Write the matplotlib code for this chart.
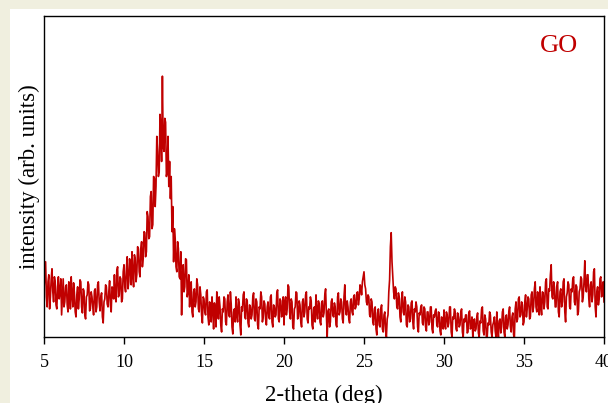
import numpy as np
import matplotlib
matplotlib.use("Agg")
from matplotlib import pyplot as plt
from matplotlib.patches import Rectangle

# XRD pattern of GO (0.05 deg steps, arb. units)
# one row per degree, starting at that whole degree
step = 0.05
counts_by_degree = {
    5: [48, 62, 75, 40, 30, 55, 62, 28, 40, 58, 68, 45, 35, 60, 55, 32, 28, 50, 60, 38],
    6: [45, 58, 22, 40, 58, 30, 35, 50, 52, 32, 25, 55, 48, 28, 60, 42, 30, 54, 44, 25],
    7: [20, 42, 50, 28, 38, 57, 55, 30, 24, 48, 46, 22, 18, 40, 42, 55, 52, 26, 28, 45],
    8: [40, 30, 22, 46, 48, 25, 30, 52, 55, 35, 26, 40, 44, 20, 14, 35, 38, 52, 50, 33],
    9: [30, 45, 56, 32, 25, 50, 48, 38, 62, 40, 35, 66, 70, 40, 42, 60, 58, 35, 38, 65],
    10: [72, 50, 45, 68, 80, 48, 55, 78, 68, 52, 85, 62, 50, 82, 78, 55, 62, 90, 88, 65],
    11: [60, 88, 95, 70, 78, 105, 104, 80, 85, 125, 120, 98, 100, 140, 145, 108, 112, 160, 158, 130],
    12: [150, 200, 185, 160, 165, 222, 210, 175, 260, 190, 185, 218, 214, 160, 165, 200, 150, 175, 138, 160],
    13: [105, 130, 75, 108, 98, 70, 65, 95, 88, 60, 58, 85, 22, 60, 72, 45, 50, 78, 77, 40],
    14: [45, 62, 30, 48, 55, 25, 20, 45, 48, 30, 35, 58, 52, 28, 25, 50, 42, 22, 14, 40],
    15: [38, 25, 22, 45, 47, 20, 12, 35, 32, 15, 40, 28, 8, 34, 28, 10, 45, 30, 18, 40],
    16: [30, 12, 5, 28, 25, 40, 38, 15, 12, 35, 42, 22, 20, 45, 33, 10, 3, 25, 28, 15],
    17: [40, 22, 15, 38, 34, 12, 2, 30, 26, 42, 45, 20, 18, 38, 36, 14, 10, 32, 30, 18],
    18: [22, 40, 44, 18, 16, 38, 35, 12, 8, 30, 28, 45, 40, 15, 20, 36, 33, 18, 12, 30],
    19: [35, 20, 18, 40, 42, 15, 10, 32, 30, 20, 22, 44, 47, 18, 15, 38, 36, 20, 25, 40],
    20: [12, 35, 40, 22, 28, 52, 50, 25, 18, 38, 35, 10, 8, 28, 30, 45, 44, 18, 20, 36],
    21: [32, 15, 10, 35, 38, 20, 25, 42, 45, 18, 14, 30, 28, 40, 36, 12, 8, 28, 30, 15],
    22: [42, 25, 18, 36, 33, 15, 12, 34, 36, 20, 24, 42, 48, 22, 0, 26, 28, 10, 15, 35],
    23: [38, 22, 20, 34, 30, 12, 10, 40, 44, 22, 25, 38, 35, 18, 14, 40, 52, 28, 22, 36],
    24: [30, 18, 14, 35, 38, 25, 22, 40, 42, 28, 30, 44, 45, 32, 38, 52, 50, 42, 55, 60],
    25: [65, 52, 48, 35, 32, 42, 40, 22, 20, 38, 35, 15, 12, 28, 30, 8, 2, 24, 28, 12],
    26: [10, 28, 32, 8, 5, 22, 25, 6, 0, 18, 22, 45, 57, 90, 104, 75, 60, 45, 38, 50],
    27: [48, 30, 28, 44, 40, 20, 15, 38, 45, 25, 22, 40, 35, 12, 10, 32, 30, 15, 18, 34],
    28: [36, 15, 8, 28, 25, 35, 30, 10, 5, 24, 22, 30, 32, 14, 12, 30, 28, 10, 6, 25],
    29: [25, 12, 15, 30, 30, 8, 4, 22, 20, 26, 28, 12, 10, 25, 24, 6, 2, 20, 18, 8],
    30: [27, 12, 8, 25, 22, 10, 14, 30, 30, 5, 0, 20, 18, 28, 25, 8, 6, 24, 20, 10],
    31: [12, 25, 28, 5, 0, 18, 15, 22, 22, 4, 5, 24, 26, 8, 10, 20, 0, 15, 18, 6],
    32: [8, 20, 24, 4, 0, 16, 14, 28, 30, 6, 2, 22, 18, 0, 0, 14, 12, 25, 22, 5],
    33: [0, 12, 15, 20, 6, 0, 25, 10, 0, 16, 18, 4, 10, 25, 28, 5, 0, 20, 22, 8],
    34: [12, 25, 30, 10, 5, 20, 24, 2, 0, 28, 35, 15, 18, 38, 40, 20, 22, 35, 32, 12],
    35: [15, 35, 42, 20, 28, 40, 38, 18, 20, 42, 45, 25, 30, 48, 55, 30, 25, 45, 40, 22],
    36: [50, 30, 22, 45, 44, 28, 35, 55, 58, 30, 28, 48, 46, 62, 72, 40, 38, 55, 50, 30],
    37: [30, 50, 55, 25, 20, 45, 48, 30, 35, 55, 58, 25, 15, 40, 44, 55, 52, 30, 28, 48],
    38: [45, 58, 60, 35, 32, 52, 50, 22, 25, 45, 48, 60, 58, 35, 40, 55, 76, 50, 45, 62],
    39: [62, 38, 30, 52, 55, 35, 42, 65, 68, 30, 20, 45, 50, 32, 38, 58, 60, 40, 45, 55],
    40: [35],
}
x_ticks = [5, 10, 15, 20, 25, 30, 35, 40]
sample_name = "GO"

two_theta = []
intensity = []
for deg, row in counts_by_degree.items():
    for i, v in enumerate(row):
        two_theta.append(deg + i * step)
        intensity.append(v)
two_theta = np.array(two_theta)
intensity = np.array(intensity, dtype=float)

red = "#c00000"
plt.rcParams['font.family'] = ["Liberation Serif", "DejaVu Serif"]

fig = plt.figure(figsize=(6.08, 4.03), dpi=100)
fig.patch.set_facecolor("#f0efdf")
# white sheet, beige strip left and top
fig.patches.append(Rectangle((10 / 608, 0), 1, 1 - 9 / 403, transform=fig.transFigure,
                             facecolor="white", edgecolor="none", zorder=-1))

ax = fig.add_axes([44 / 608, 1 - 337 / 403, 560 / 608, 321 / 403])
ax.plot(two_theta, intensity, color=red, linewidth=1.2)
ax.set_xlim(5, 40)
ax.set_ylim(0, 320)
ax.set_xticks(x_ticks)
ax.set_yticks([])
ax.tick_params(axis='x', direction='out', length=5, width=1, pad=7, labelsize=13)
for s in ax.spines.values():
    s.set_linewidth(1.0)
    s.set_color("black")
ax.set_xlabel("2-theta (deg)", fontsize=16.5, labelpad=10)
ax.set_ylabel("intensity (arb. units)", fontsize=16.5, labelpad=3)
ax.text(0.92, 0.905, sample_name, transform=ax.transAxes, color=red,
        fontsize=19, ha='center', va='center')

plt.savefig("out.png", dpi=100)
